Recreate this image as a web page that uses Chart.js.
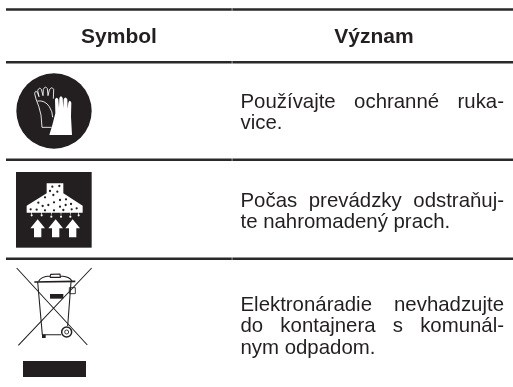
<!DOCTYPE html>
<html>
<head>
<meta charset="utf-8">
<title>Symbol</title>
<script src="https://cdn.jsdelivr.net/npm/chart.js@4"></script>
<style>
  html, body { margin: 0; padding: 0; background: #fff; }
  canvas { display: block; }
</style>
</head>
<body>
<canvas id="Cnvs1" width="513" height="387"></canvas>
<script>
var columns = ['Symbol', 'Význam'];
var symbols = ['rukavice', 'odsavanie', 'odpad'];
var meanings = [
  ['Používajte ochranné ruka-', 'vice.'],
  ['Počas prevádzky odstraňuj-', 'te nahromadený prach.'],
  ['Elektronáradie nevhadzujte', 'do kontajnera s komunál-', 'nym odpadom.']
];

// table layout, the axes run in page pixels
var ruleY = [9.4, 62.2, 159.7, 258.8];
var ruleX = [6, 231.8, 232.3, 513];
var columnX = [119, 374];
var headerBase = 42.5;
var symbolAt = [[54, 111], [54, 210], [54, 324]];
var textLeft = 240.5, textRight = 504;
var firstBase = [107.5, 207, 311];
var lineStep = 21.3;
var ink = '#231f20';

// icons are drawn in 3x units, same as the crops they were measured on
function icon(w, h, ox, oy, draw) {
  var c = document.createElement('canvas');
  c.width = w; c.height = h;
  var g = c.getContext('2d');
  g.scale(1 / 3, 1 / 3);
  g.translate(-ox, -oy);
  g.fillStyle = ink; g.strokeStyle = ink;
  g.lineJoin = 'round';
  draw(g);
  return c;
}
function poly(g, pts) {
  g.beginPath();
  g.moveTo(pts[0][0], pts[0][1]);
  for (var i = 1; i < pts.length; i++) g.lineTo(pts[i][0], pts[i][1]);
}
function dot(g, x, y, r) {
  g.beginPath(); g.arc(x, y, r, 0, Math.PI * 2); g.fill();
}

var gloves = icon(78, 78, 45, 216, function(g) {
  dot(g, 162, 333, 113);
  g.strokeStyle = '#fff'; g.lineWidth = 2.6;
  g.beginPath();
  g.moveTo(126, 382); g.lineTo(155, 382);
  g.moveTo(126, 382); g.lineTo(123, 345);
  g.quadraticCurveTo(118, 320, 108, 297);
  g.lineTo(104, 281); g.quadraticCurveTo(106, 268, 113, 279); g.lineTo(117, 290);
  g.lineTo(113, 272); g.quadraticCurveTo(117, 260, 124, 268); g.lineTo(129, 287);
  g.lineTo(130, 268); g.quadraticCurveTo(136, 256, 142, 266); g.lineTo(144, 287);
  g.lineTo(148, 270); g.quadraticCurveTo(155, 258, 161, 268); g.lineTo(160, 296);
  g.moveTo(112, 303); g.quadraticCurveTo(135, 300, 148, 320);
  g.quadraticCurveTo(158, 335, 158, 352);
  g.stroke();
  g.fillStyle = '#fff';
  g.beginPath();
  g.moveTo(148, 405); g.lineTo(216, 405); g.lineTo(213, 350); g.lineTo(214, 308);
  g.quadraticCurveTo(209, 296, 205, 308); g.lineTo(203, 326);
  g.lineTo(202, 298); g.quadraticCurveTo(196, 287, 191, 298); g.lineTo(190, 324);
  g.lineTo(188, 294); g.quadraticCurveTo(183, 284, 178, 294); g.lineTo(177, 324);
  g.lineTo(175, 298); g.quadraticCurveTo(170, 288, 165, 298);
  g.lineTo(166, 340); g.lineTo(157, 375);
  g.closePath();
  g.fill();
});

var hood = icon(78, 78, 45, 33, function(g) {
  g.fillRect(48, 36, 227, 227);
  g.fillStyle = '#fff';
  poly(g, [[140, 70], [190, 70], [190, 100], [248, 137], [248, 158], [80, 158], [80, 137], [140, 100]]);
  g.fill();
  [113, 167, 218].forEach(function(x) {
    poly(g, [[x, 178], [x + 22, 205], [x + 11, 205], [x + 11, 232], [x - 11, 232], [x - 11, 205], [x - 22, 205]]);
    g.fill();
  });
  [[95, 166], [125, 166], [154, 170], [183, 170], [211, 170], [236, 166]].forEach(function(p) {
    dot(g, p[0], p[1], 3.2);
    g.fillRect(p[0] - 1, 156, 2, 8);
  });
  g.fillStyle = ink;
  [[157, 80], [178, 78], [150, 93], [172, 95], [160, 105], [135, 112], [115, 128], [128, 138], [145, 135],
   [162, 127], [180, 120], [198, 118], [213, 132], [197, 135], [180, 140], [92, 148], [110, 149], [135, 151],
   [162, 151], [190, 150], [215, 148], [230, 145]].forEach(function(p) {
    dot(g, p[0], p[1], 3.4);
  });
});

var bin = icon(84, 120, 36, 318, function(g) {
  g.lineCap = 'butt';
  g.lineWidth = 3.2;
  g.beginPath();
  g.moveTo(50, 330); g.lineTo(262, 561);
  g.moveTo(275, 330); g.lineTo(55, 562);
  g.stroke();
  g.lineWidth = 5;
  g.beginPath(); g.moveTo(103, 372); g.lineTo(226, 370); g.stroke();
  g.lineWidth = 3.4;
  g.beginPath();
  g.moveTo(116, 370); g.quadraticCurveTo(122, 356, 150, 354);
  g.moveTo(181, 354); g.quadraticCurveTo(210, 355, 216, 370);
  g.moveTo(150, 358); g.lineTo(152, 349); g.lineTo(180, 348); g.lineTo(181, 358); g.lineTo(150, 358);
  g.stroke();
  g.lineWidth = 3.2;
  g.beginPath();
  g.moveTo(113, 372); g.lineTo(127, 530); g.lineTo(184, 530);
  g.moveTo(213, 372); g.lineTo(203, 505);
  g.stroke();
  g.fillRect(150, 408, 40, 14);
  g.fillRect(126, 530, 11, 10);
  g.lineWidth = 2.6;
  g.strokeRect(208, 389, 18, 18);
  g.fillStyle = '#fff';
  dot(g, 200, 522, 18);
  g.lineWidth = 4.5;
  g.beginPath(); g.arc(200, 522, 15, 0, Math.PI * 2); g.stroke();
  g.lineWidth = 2.6;
  g.beginPath(); g.arc(200, 522, 6, 0, Math.PI * 2); g.stroke();
  g.fillStyle = ink;
  g.fillRect(69, 609, 189, 48);
});

var symbolIcons = [gloves, hood, bin];

var tableText = {
  id: 'tableText',
  afterDatasetsDraw: function(chart) {
    var ctx = chart.ctx, x = chart.scales.x, y = chart.scales.y;
    ctx.save();
    ctx.fillStyle = ink;
    ctx.textBaseline = 'alphabetic';
    ctx.font = 'bold 21px "Liberation Sans"';
    ctx.textAlign = 'center';
    columns.forEach(function(name, i) {
      ctx.fillText(name, x.getPixelForValue(columnX[i]), y.getPixelForValue(headerBase));
    });
    ctx.textAlign = 'left';
    ctx.font = '20.4px "Liberation Sans"';
    var left = x.getPixelForValue(textLeft), right = x.getPixelForValue(textRight);
    meanings.forEach(function(lines, r) {
      lines.forEach(function(line, i) {
        // every line but the last of a cell is justified
        ctx.wordSpacing = '0px';
        if (i < lines.length - 1) {
          var gaps = line.split(' ').length - 1;
          ctx.wordSpacing = ((right - left - ctx.measureText(line).width) / gaps) + 'px';
        }
        ctx.fillText(line, left, y.getPixelForValue(firstBase[r] + i * lineStep));
      });
    });
    ctx.restore();
  }
};

var datasets = [];
ruleY.forEach(function(ry) {
  datasets.push({
    data: [{x: ruleX[0], y: ry}, {x: ruleX[1], y: ry}, {x: ruleX[1], y: null}, {x: ruleX[2], y: ry}, {x: ruleX[3], y: ry}],
    showLine: true,
    borderColor: '#2b2829',
    borderWidth: 2.5,
    pointRadius: 0,
    spanGaps: false
  });
});
datasets.push({
  label: symbols.join(', '),
  data: symbolAt.map(function(p) { return {x: p[0], y: p[1]}; }),
  showLine: false,
  pointStyle: symbolIcons,
  pointRadius: 10
});

var Cnvs = document.getElementById('Cnvs1').getContext('2d');
var table = new Chart(Cnvs, {
  type: 'scatter',
  data: { datasets: datasets },
  plugins: [tableText],
  options: {
    responsive: false,
    animation: false,
    events: [],
    layout: { padding: 0, autoPadding: false },
    plugins: { legend: { display: false }, tooltip: { enabled: false } },
    scales: {
      x: { type: 'linear', display: false, min: 0, max: 513 },
      y: { type: 'linear', display: false, min: 0, max: 387, reverse: true }
    }
  }
});
</script>
</body>
</html>
